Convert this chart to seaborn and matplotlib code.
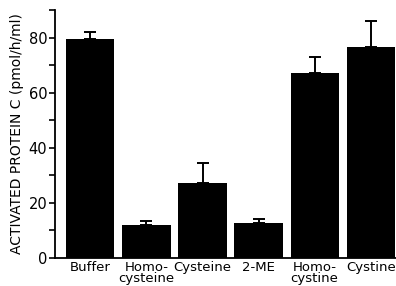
import matplotlib
matplotlib.use("Agg")
import matplotlib.pyplot as plt
import seaborn as sns
import pandas as pd
from matplotlib.ticker import MultipleLocator

categories = ["Buffer", "Homo-\ncysteine", "Cysteine", "2-ME", "Homo-\ncystine", "Cystine"]
values = [79.6, 12.0, 27.3, 12.6, 67.0, 76.7]
errors = [2.5, 1.5, 7.1, 1.4, 5.8, 9.3]
yticks = [0, 20, 40, 60, 80]

sns.set_style("ticks")
plt.rcParams['font.family'] = ['DejaVu Sans']
plt.rcParams.update({"text.color": "black", "axes.labelcolor": "black",
                     "xtick.color": "black", "ytick.color": "black",
                     "axes.edgecolor": "black"})

df = pd.DataFrame({"cat": categories, "val": values})

fig = plt.figure(figsize=(3.96, 2.86), dpi=100)
ax = fig.add_axes([0.139, 0.098, 0.861, 0.867])

sns.barplot(data=df, x="cat", y="val", color="black", width=0.86,
            saturation=1, ax=ax, edgecolor="black", linewidth=0)
ax.errorbar(range(len(categories)), values, yerr=[[0]*len(errors), errors],
            fmt="none", ecolor="black", elinewidth=1.4, capsize=4.5, capthick=1.4)

ax.set_xlim(-0.63, 5.45)
ax.set_ylim(0, 90)
ax.set_yticks(yticks)
ax.yaxis.set_minor_locator(MultipleLocator(10))
ax.tick_params(axis="y", which="both", direction="out", length=4.5, width=1.2,
               labelsize=10.5, pad=1, colors="black")
ax.tick_params(axis="x", length=0, labelsize=9.5, pad=2, colors="black")
ax.set_xlabel("")
ax.set_ylabel("ACTIVATED PROTEIN C (pmol/h/ml)", fontsize=10, labelpad=3, color="black")
ax.spines["top"].set_visible(False)
ax.spines["right"].set_visible(False)
ax.spines["left"].set_linewidth(1.3)
ax.spines["bottom"].set_linewidth(1.3)
for lab in ax.get_xticklabels():
    lab.set_linespacing(0.85)

fig.savefig("out.png", dpi=100)
